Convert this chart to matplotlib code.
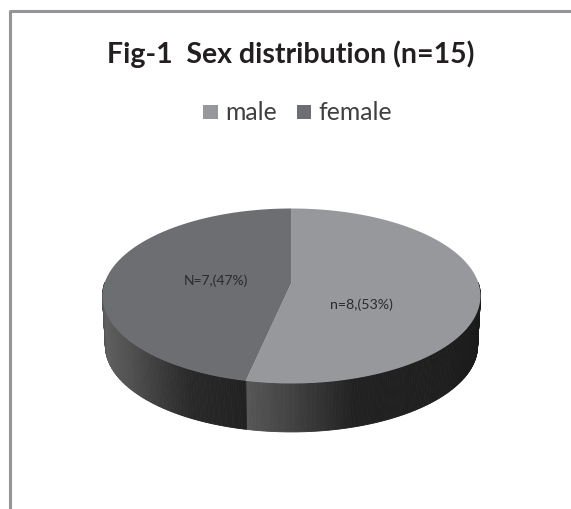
import matplotlib
matplotlib.use("Agg")
import matplotlib.pyplot as plt
from matplotlib.patches import Polygon
import numpy as np

# chart data
labels = ["male", "female"]
values = [8, 7]
slice_text = ["n=8,(53%)", "N=7,(47%)"]
title = "Fig-1  Sex distribution (n=15)"

top_colors = ["#97989b", "#6d6e71"]
W, H = 571, 510

# pie projection, fitted to the picture
cx, cy = 291.5, 283.5
a, b, k = 186.7, 85.4, 0.154
depth, shrink = 50, 0.985


def project(t, drop=0.0, s=1.0):
    x, y = np.cos(t), np.sin(t)
    w = 1 + k * y
    return cx + s * a * x / w, cy - s * b * y / w + drop


fig = plt.figure(figsize=(W / 100, H / 100), dpi=100)
ax = fig.add_axes([0, 0, 1, 1])
ax.set_xlim(0, W)
ax.set_ylim(H, 0)
ax.axis("off")

# frame, open at right and bottom
ax.plot([9.5, 9.5, 571], [510, 12, 12], color="#939598", lw=2.2, solid_capstyle="butt")

# slice angles, clockwise from twelve o'clock
fracs = np.array(values) / sum(values)
edges = np.pi / 2 - 2 * np.pi * np.concatenate([[0], np.cumsum(fracs)])

# side wall: front half only, drawn as thin strips for the shading
split = edges[1]
male_t = np.linspace(split, 0.0, 160)
female_t = np.linspace(-np.pi, split, 160)
male_stops = ([0, 0.1, 0.28, 1], [0.34, 0.27, 0.13, 0.10])
female_stops = ([0, 0.05, 0.25, 0.5, 0.8, 1], [0.20, 0.27, 0.38, 0.32, 0.16, 0.13])

for ts, stops in [(male_t, male_stops), (female_t, female_stops)]:
    for i in range(len(ts) - 1):
        t0, t1 = ts[i], ts[i + 1]
        x0, y0 = project(t0)
        x1, y1 = project(t1)
        x2, y2 = project(t1, depth, shrink)
        x3, y3 = project(t0, depth, shrink)
        g = str(np.interp(i / (len(ts) - 2), stops[0], stops[1]))
        ax.add_patch(Polygon([(x0, y0), (x1, y1), (x2, y2), (x3, y3)],
                             closed=True, fc=g, ec=g, lw=0.6))

# top surface
for i in range(len(values)):
    ts = np.linspace(edges[i], edges[i + 1], 200)
    xs, ys = project(ts)
    pts = np.column_stack([np.r_[cx, xs], np.r_[cy, ys]])
    ax.add_patch(Polygon(pts, closed=True, fc=top_colors[i], ec="none"))

ax.text(361, 305, slice_text[0], fontsize=10.2, color="#2b2b2b", ha="center", va="center",
        family="Lato")
ax.text(215.5, 281, slice_text[1], fontsize=10, color="#2b2b2b", ha="center", va="center",
        family="Lato")

ax.text(290.5, 54, title, fontsize=20.5, fontweight="bold", color="#231f20",
        ha="center", va="center", family="Lato")

# legend
ax.add_patch(Polygon([(203, 106), (218, 106), (218, 120), (203, 120)], fc=top_colors[0], ec="none"))
ax.text(225, 113, labels[0], fontsize=17.8, color="#404040", ha="left", va="center", family="Lato")
ax.add_patch(Polygon([(297, 106), (311, 106), (311, 120), (297, 120)], fc=top_colors[1], ec="none"))
ax.text(318, 113, labels[1], fontsize=17.8, color="#404040", ha="left", va="center", family="Lato")

fig.savefig("out.png", dpi=100)
